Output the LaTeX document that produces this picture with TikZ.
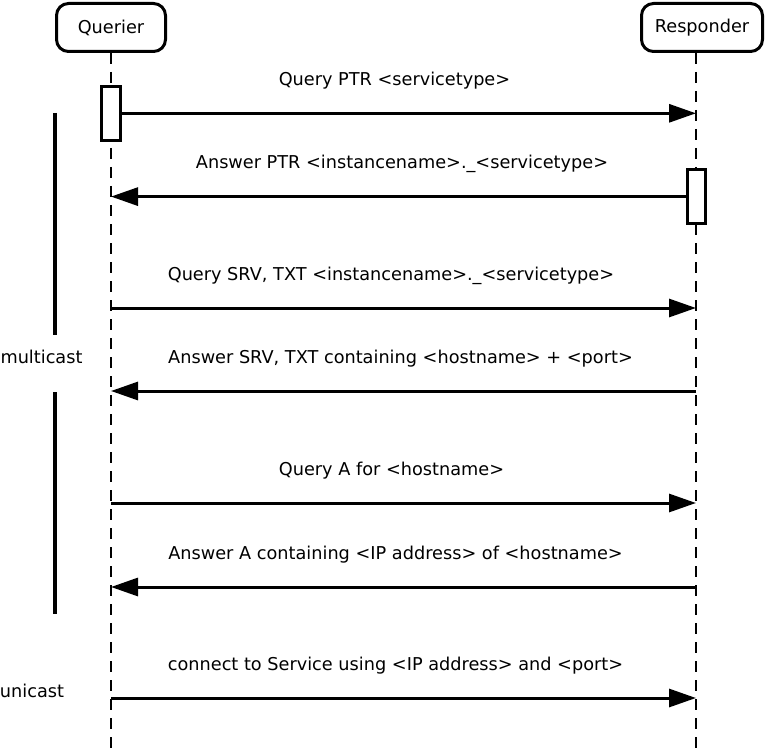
\documentclass[tikz,border=0pt]{standalone}
\usepackage{fontspec}
\setmainfont{DejaVu Sans}
\usetikzlibrary{arrows.meta}
\begin{document}
\begin{tikzpicture}[x=1pt,y=-1pt,
  actor/.style={draw,line width=3pt,rounded corners=12pt,minimum height=48pt,inner sep=0pt,font=\fontsize{17.7}{20}\selectfont},
  life/.style={line width=1.8pt,dash pattern=on 11pt off 8pt},
  actbox/.style={draw,fill=white,line width=3pt,minimum width=18.5pt,minimum height=53.5pt,inner sep=0pt},
  msg/.style={line width=3pt,-{Triangle[length=27pt,width=18pt]}},
  lbl/.style={anchor=base,font=\fontsize{17.7}{20}\selectfont,inner sep=0pt},
  side/.style={font=\fontsize{17.7}{20}\selectfont,inner sep=0pt},
  grp/.style={line width=3.2pt}]
\useasboundingbox (0,0) rectangle (765,754);
% actors
\node[actor,minimum width=109pt] (q) at (111,27.5) {Querier};
\node[actor,minimum width=121pt] (r) at (702,27.5) {Responder};
% lifelines
\coordinate (qtop) at (111,53);
\coordinate (qbot) at (111,754);
\coordinate (rtop) at (696,53);
\coordinate (rbot) at (696,754);
\draw[life] (qtop) -- (qbot);
\draw[life] (rtop) -- (rbot);
% activations
\node[actbox] (a1) at (111,113.3) {};
\node[actbox] (a2) at (696.3,196.6) {};
% endpoints
\coordinate (r1) at (696,113.3);
\coordinate (q2) at (111,196.6);
\coordinate (q3) at (111,308);
\coordinate (r3) at (696,308);
\coordinate (q4) at (111,391);
\coordinate (r4) at (696,391);
\coordinate (q5) at (111,503);
\coordinate (r5) at (696,503);
\coordinate (q6) at (111,587);
\coordinate (r6) at (696,587);
\coordinate (q7) at (111,698);
\coordinate (r7) at (696,698);
% messages
\draw[msg] (a1.east) -- (r1);
\draw[msg] (a2.west) -- (q2);
\draw[msg] (q3) -- (r3);
\draw[msg] (r4) -- (q4);
\draw[msg] (q5) -- (r5);
\draw[msg] (r6) -- (q6);
\draw[msg] (q7) -- (r7);
% labels
\node[lbl] (l1) at (394.5,85.5) {Query PTR <servicetype>};
\node[lbl] (l2) at (402,169) {Answer PTR <instancename>.\_<servicetype>};
\node[lbl] (l3) at (391,280.5) {Query SRV, TXT <instancename>.\_<servicetype>};
\node[lbl] (l4) at (400.5,363.5) {Answer SRV, TXT containing <hostname> + <port>};
\node[lbl] (l5) at (391.5,475.5) {Query A for <hostname>};
\node[lbl] (l6) at (395.5,559.5) {Answer A containing <IP address> of <hostname>};
\node[lbl] (l7) at (395.5,670.5) {connect to Service using <IP address> and <port>};
% groups
\node[side] (mc) at (41.5,357) {multicast};
\node[side] (uc) at (32,691) {unicast};
\coordinate (g1) at (55,113);
\coordinate (g2) at (55,335);
\coordinate (g3) at (55,392);
\coordinate (g4) at (55,614);
\draw[grp] (g1) -- (g2);
\draw[grp] (g3) -- (g4);
\end{tikzpicture}
\end{document}
